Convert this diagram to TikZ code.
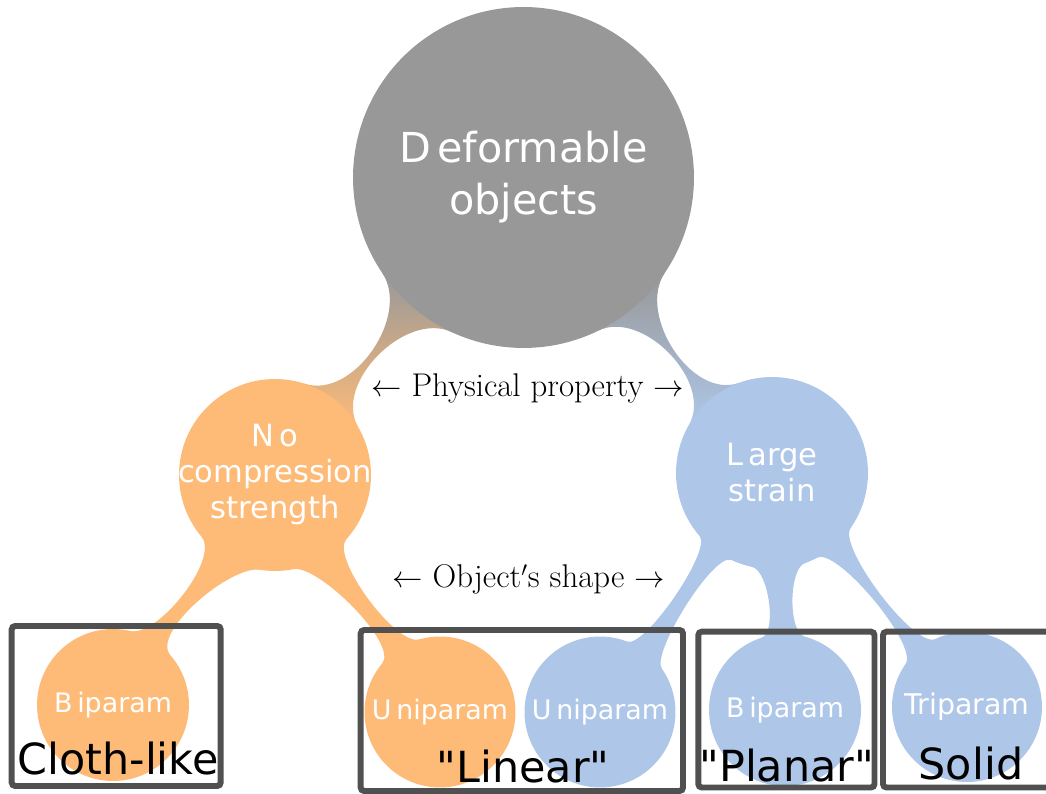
\documentclass[tikz,border=0pt]{standalone}
\usepackage{fontspec}
\newfontfamily\dvs{DejaVu Sans}
\definecolor{ggray}{HTML}{989898}
\definecolor{gorange}{HTML}{FEBB78}
\definecolor{gblue}{HTML}{AEC7E8}
\definecolor{boxgray}{HTML}{505050}
\pgfdeclarelayer{bg}
\pgfsetlayers{bg,main}
% #1 style, #2 node A, #3 a1, #4 a2, #5 node B, #6 b1, #7 b2, #8 looseness
\newcommand\metastem[8]{%
  \pgfmathsetmacro\msOa{#3+90}\pgfmathsetmacro\msIa{#7-90}%
  \pgfmathsetmacro\msOb{#6+90}\pgfmathsetmacro\msIb{#4-90}%
  \path[#1] (#2.#3) to[out=\msOa,in=\msIa,looseness=#8] (#5.#7) -- (#5.#6)
    to[out=\msOb,in=\msIb,looseness=#8] (#2.#4) -- cycle;}
\newcommand\sarr[1]{\raisebox{0.3pt}{\fontsize{16}{16}\selectfont$#1$}}
\begin{document}
\begin{tikzpicture}[x=0.02cm,y=0.02cm,
  blob/.style={circle, inner sep=0pt, outer sep=0pt, draw=none},
  gtxt/.style={text=white, align=center, font=\dvs\fontsize{23.5}{29.6}\selectfont},
  mtxt/.style={text=white, align=center, font=\dvs\fontsize{17.4}{20.5}\selectfont},
  stxt/.style={text=white, font=\dvs\fontsize{15.3}{18}\selectfont},
  lbl/.style={anchor=base, font=\dvs\fontsize{24.4}{28}\selectfont},
  midtxt/.style={anchor=base, font=\fontsize{18.7}{22}\selectfont},
  boxline/.style={draw=boxgray, line width=3.4pt, rounded corners=2pt}]
\useasboundingbox (0,0) rectangle (1046,794);
% circles
\node[blob, fill=ggray, minimum size=6.82cm] (g) at (523.5,616.5) {};
\node[blob, fill=gorange, minimum size=3.84cm] (o) at (275,319) {};
\node[blob, fill=gblue, minimum size=3.84cm] (b) at (772,321) {};
\node[blob, fill=gorange, minimum size=3.04cm] (oBi) at (113,89) {};
\node[blob, fill=gorange, minimum size=3.02cm] (oUni) at (440,82) {};
\node[blob, fill=gblue, minimum size=3.02cm] (bUni) at (600,82) {};
\node[blob, fill=gblue, minimum size=3.04cm] (bBi) at (785,84) {};
\node[blob, fill=gblue, minimum size=3.0cm] (bTri) at (967,87) {};
% connectors
\begin{pgfonlayer}{bg}
\metastem{shade, top color=ggray, bottom color=gorange}{g}{214}{245}{o}{30}{72}{0.97}
\metastem{shade, top color=ggray, bottom color=gblue}{g}{296}{326}{b}{110}{150}{0.97}
\metastem{fill=gorange}{o}{220}{261}{oBi}{41}{77}{0.62}
\metastem{fill=gorange}{o}{281}{318}{oUni}{106}{140}{0.5}
\metastem{fill=gblue}{b}{221}{245}{bUni}{35}{69}{0.38}
\metastem{fill=gblue}{b}{258}{290}{bBi}{75}{108}{0.6}
\metastem{fill=gblue}{b}{298}{325}{bTri}{115}{145}{0.42}
\end{pgfonlayer}
% circle texts
\node[gtxt] (gT) at (g) {D\kern.15em eformable\\objects};
\node[mtxt] (oT) at (o) {N\kern.15em o\\compression\\strength};
\node[mtxt] (bT) at (b) {L\kern.15em arge\\strain};
\node[stxt] (oBiT) at (oBi) {B\kern.18em iparam};
\node[stxt] (oUniT) at (oUni) {U\kern.18em niparam};
\node[stxt] (bUniT) at (bUni) {U\kern.18em niparam};
\node[stxt] (bBiT) at (bBi) {B\kern.18em iparam};
\node[stxt, font=\dvs\fontsize{16.2}{18}\selectfont] (bTriT) at (bTri) {Triparam};
% middle texts
\node[midtxt] (pp) at (527.5,397.3) {\sarr{\leftarrow} Physical property \sarr{\rightarrow}};
\node[midtxt] (os) at (528.5,206) {\sarr{\leftarrow} Object$'$s shape \sarr{\rightarrow}};
% boxes
\draw[boxline] (11.7,8) rectangle (220.7,168);
\draw[boxline] (360.7,3) rectangle (683,164);
\draw[boxline] (698.3,6.5) rectangle (874.5,162.3);
\draw[boxline] (883,6.5) rectangle (1056,162.3);
\node[lbl] (l1) at (118,19) {Cloth-like};
\node[lbl] (l2) at (523,11) {"Linear"};
\node[lbl] (l3) at (786.7,12.3) {"Planar"};
\node[lbl] (l4) at (971,14) {Solid};
\end{tikzpicture}
\end{document}
